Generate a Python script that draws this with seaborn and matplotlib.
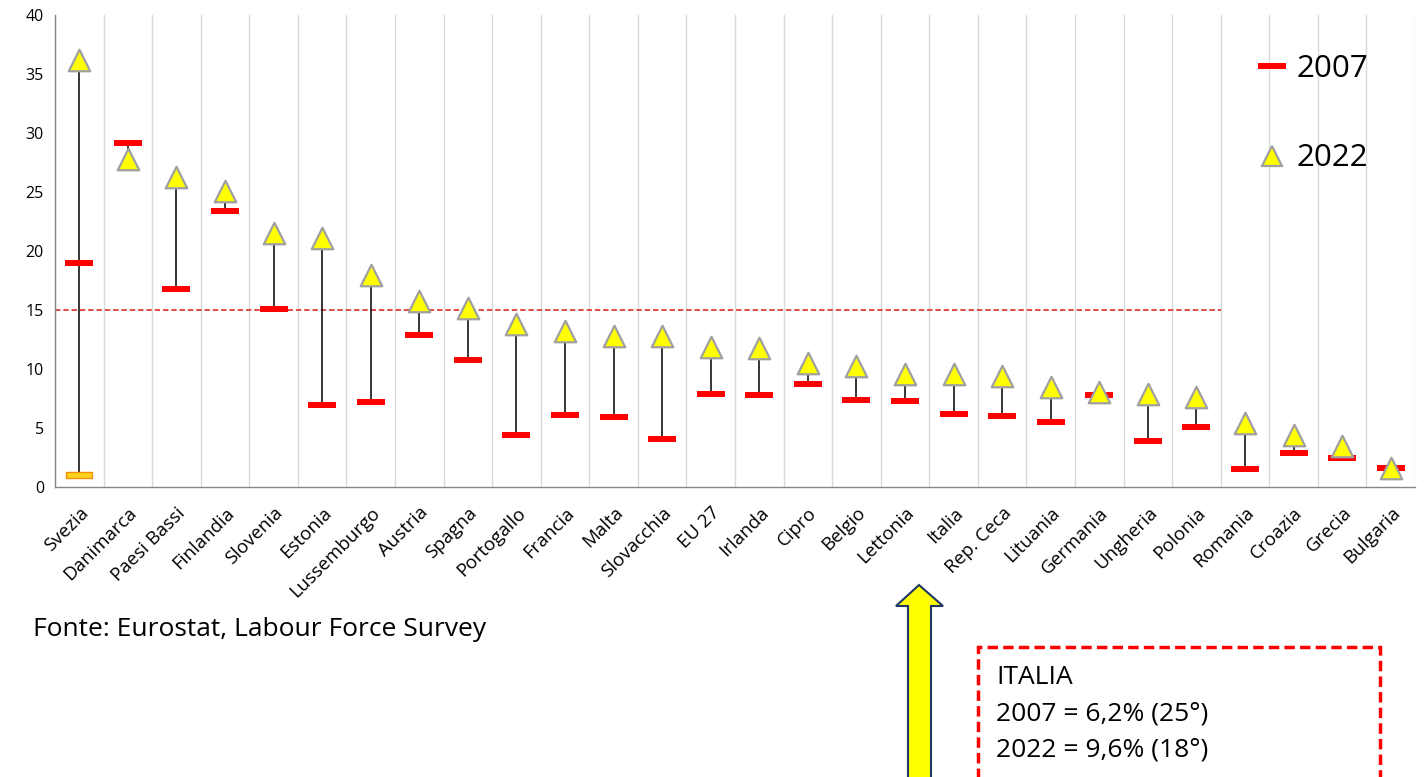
import numpy as np
import pandas as pd
import matplotlib
matplotlib.use('Agg')
from matplotlib import pyplot as plt
from matplotlib.lines import Line2D
from matplotlib.patches import Rectangle, Polygon
import seaborn as sns

countries = ['Svezia', 'Danimarca', 'Paesi Bassi', 'Finlandia', 'Slovenia', 'Estonia',
             'Lussemburgo', 'Austria', 'Spagna', 'Portogallo', 'Francia', 'Malta',
             'Slovacchia', 'EU 27', 'Irlanda', 'Cipro', 'Belgio', 'Lettonia', 'Italia',
             'Rep. Ceca', 'Lituania', 'Germania', 'Ungheria', 'Polonia', 'Romania',
             'Croazia', 'Grecia', 'Bulgaria']
v2007 = [19.0, 29.1, 16.8, 23.4, 15.1, 7.0, 7.2, 12.9, 10.8, 4.4, 6.1, 5.9, 4.1, 7.9,
         7.8, 8.7, 7.4, 7.3, 6.2, 6.0, 5.5, 7.8, 3.9, 5.1, 1.5, 2.9, 2.5, 1.6]
v2022 = [36.2, 27.8, 26.3, 25.1, 21.5, 21.1, 18.0, 15.8, 15.2, 13.8, 13.2, 12.8, 12.8,
         11.9, 11.8, 10.5, 10.3, 9.6, 9.6, 9.4, 8.5, 8.1, 7.9, 7.6, 5.4, 4.4, 3.5, 1.6]
# extra low point shown only for Svezia
v_extra = [1.0] + [np.nan] * 27
target = 15
target_last = 'Polonia'

sns.set_style('white')
plt.rcParams['font.family'] = ['Open Sans', 'DejaVu Sans']
plt.rcParams['text.color'] = 'black'

df = pd.DataFrame({'pos': np.arange(len(countries)), 'country': countries,
                   'y2007': v2007, 'y2022': v2022, 'extra': v_extra})
lo = df[['y2007', 'y2022', 'extra']].min(axis=1)
hi = df[['y2007', 'y2022', 'extra']].max(axis=1)

bar_marker = [(-1, -0.21), (1, -0.21), (1, 0.21), (-1, 0.21), (-1, -0.21)]

fig = plt.figure(figsize=(14.25, 7.77), dpi=100)
ax = fig.add_axes([0.0386, 0.373, 0.9544, 0.608])

ax.vlines(df['pos'], lo, hi, color='black', lw=1.1, zorder=2)
n_target = countries.index(target_last) + 1
ax.plot([-0.5, n_target - 0.5], [target, target], color='#D94040', lw=1.3,
        ls=(0, (3, 1.6)), zorder=1)

sns.scatterplot(data=df, x='pos', y='y2007', marker=bar_marker, s=420, color='#FF0000',
                edgecolor='#FF0000', linewidth=0, zorder=3, ax=ax)
sns.scatterplot(data=df, x='pos', y='extra', marker=bar_marker, s=330, color='#FFD21F',
                edgecolor='#F0900A', linewidth=1, zorder=3, ax=ax)
sns.scatterplot(data=df, x='pos', y='y2022', marker='^', s=240, color='#FFFF00',
                edgecolor='#A0A0A0', linewidth=1.6, zorder=4, ax=ax)

ax.set_xlim(-0.5, len(countries) - 0.5)
ax.set_ylim(0, 40)
ax.set_yticks(np.arange(0, 41, 5))
ax.set_xticks(df['pos'])
ax.set_xticklabels(countries, rotation=45, ha='right', rotation_mode='anchor', fontsize=13.5)
ax.set_xticks(np.arange(len(countries) + 1) - 0.5, minor=True)
ax.tick_params(axis='x', which='major', length=0, pad=12, labelcolor='black')
ax.tick_params(axis='x', which='minor', length=6, color='#868686', width=1)
ax.tick_params(axis='y', length=5, color='#868686', labelsize=11.5, pad=3, labelcolor='black')
ax.grid(axis='x', which='minor', color='#D9D9D9', lw=1)
ax.set_axisbelow(True)
ax.set_xlabel('')
ax.set_ylabel('')
for side in ['top', 'right']:
    ax.spines[side].set_visible(False)
for side in ['left', 'bottom']:
    ax.spines[side].set_color('#868686')
    ax.spines[side].set_linewidth(1)

handles = [Line2D([], [], ls='none', marker=bar_marker, markersize=20, color='#FF0000', mew=0),
           Line2D([], [], ls='none', marker='^', markersize=15, markerfacecolor='#FFFF00',
                  markeredgecolor='#A0A0A0', mew=1.6)]
fig.legend(handles, ['2007', '2022'], loc='upper left', bbox_to_anchor=(1225 / 1425, 1 - 26 / 777),
           frameon=False, fontsize=22.5, labelspacing=1.9, handletextpad=0.2, handlelength=1.2)

fig.text(33 / 1425, 1 - 630 / 777, 'Fonte: Eurostat, Labour Force Survey', fontsize=19,
         va='center', ha='left')

# yellow arrow pointing at Italia
arrow_px = [(919, 585), (943, 606), (931, 606), (931, 790), (908, 790), (908, 606), (896, 606)]
fig.patches.append(Polygon([(x / 1425, 1 - y / 777) for x, y in arrow_px], closed=True,
                           transform=fig.transFigure, facecolor='#FFFF00', edgecolor='#1F3864',
                           lw=1.5, zorder=5))

# dashed info box
fig.patches.append(Rectangle((978 / 1425, 1 - 800 / 777), 402 / 1425, 153 / 777,
                             transform=fig.transFigure, facecolor='white', edgecolor='#FF0000',
                             lw=2.5, ls=(0, (3, 1.5)), zorder=5))
box_lines = ['ITALIA', '2007 = 6,2% (25°)', '2022 = 9,6% (18°)']
for i, line in enumerate(box_lines):
    fig.text(996 / 1425, 1 - (678 + 36 * i) / 777, line, fontsize=19, va='center', ha='left', zorder=6)

fig.savefig('out.png', dpi=100)
